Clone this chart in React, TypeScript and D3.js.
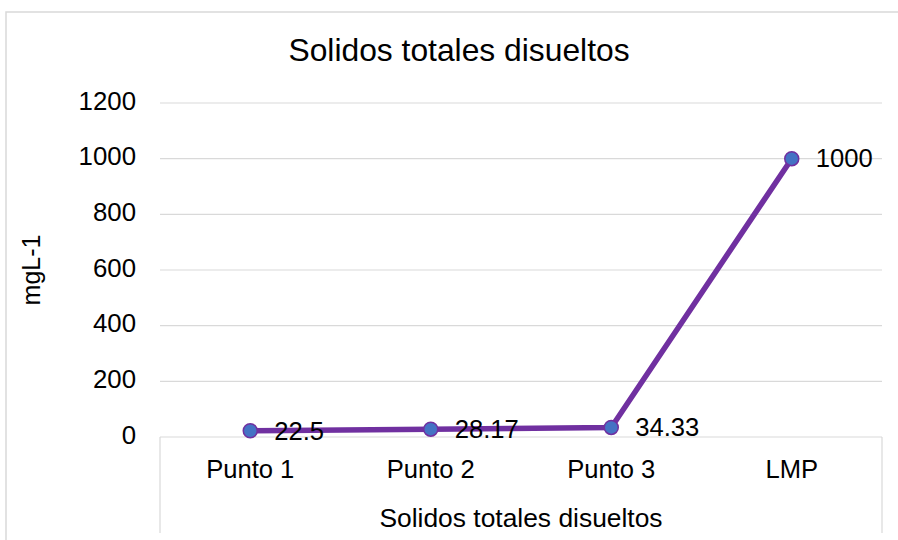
import React from "react";
import * as d3 from "d3";

const categories = ["Punto 1", "Punto 2", "Punto 3", "LMP"];
const values = [22.5, 28.17, 34.33, 1000];
const valueLabels = ["22.5", "28.17", "34.33", "1000"];
const yTicks = [0, 200, 400, 600, 800, 1000, 1200];

const chartTitle = "Solidos totales disueltos";
const xAxisTitle = "Solidos totales disueltos";
const yAxisTitle = "mgL-1";

const W = 898;
const H = 540;
const FONT = "Liberation Sans, Arial, sans-serif";

export default function App() {
  const plotLeft = 160;
  const plotRight = 882;
  const plotTop = 103;
  const plotBottom = 437;

  const x = d3.scaleBand<string>().domain(categories).range([plotLeft, plotRight]).padding(0);
  const y = d3.scaleLinear().domain([0, 1200]).range([plotBottom, plotTop]);
  const cx = (c: string) => (x(c) as number) + x.bandwidth() / 2;

  const line = d3
    .line<number>()
    .x((_, i) => cx(categories[i]))
    .y((d) => y(d));

  const grid = "#D9D9D9";

  return (
    <svg
      width={W}
      height={H}
      style={{ position: "absolute", left: 0, top: 0, background: "#fff" }}
      fontFamily={FONT}
    >
      <rect x={6} y={12} width={W + 10} height={H + 10} fill="#fff" stroke={grid} strokeWidth={1.5} />

      <text x={459} y={53} textAnchor="middle" dominantBaseline="middle" fontSize={31.8} fill="#000">
        {chartTitle}
      </text>

      {yTicks.map((t) => (
        <g key={t}>
          <line x1={plotLeft} x2={plotRight} y1={y(t)} y2={y(t)} stroke={grid} strokeWidth={1.2} />
          <text x={136} y={y(t)} textAnchor="end" dominantBaseline="middle" fontSize={25.8} fill="#000">
            {t}
          </text>
        </g>
      ))}

      <line x1={plotLeft} x2={plotLeft} y1={plotBottom} y2={533} stroke={grid} strokeWidth={1.2} />
      <line x1={plotRight} x2={plotRight} y1={plotBottom} y2={533} stroke={grid} strokeWidth={1.2} />

      {categories.map((c) => (
        <text key={c} x={cx(c)} y={478} textAnchor="middle" fontSize={25.6} fill="#000">
          {c}
        </text>
      ))}

      <text x={521} y={527} textAnchor="middle" fontSize={26.4} fill="#000">
        {xAxisTitle}
      </text>

      <text
        transform={`translate(33,270) rotate(-90)`}
        textAnchor="middle"
        dominantBaseline="middle"
        fontSize={25}
        fill="#000"
      >
        {yAxisTitle}
      </text>

      <path d={line(values) || ""} fill="none" stroke="#7030A0" strokeWidth={5.5} strokeLinejoin="round" />

      {values.map((v, i) => (
        <circle key={i} cx={cx(categories[i])} cy={y(v)} r={7} fill="#4472C4" stroke="#7030A0" strokeWidth={1.5} />
      ))}

      {values.map((v, i) => (
        <text
          key={`l${i}`}
          x={cx(categories[i]) + 24}
          y={y(v) + 2}
          dominantBaseline="middle"
          fontSize={25.6}
          fill="#000"
        >
          {valueLabels[i]}
        </text>
      ))}
    </svg>
  );
}
